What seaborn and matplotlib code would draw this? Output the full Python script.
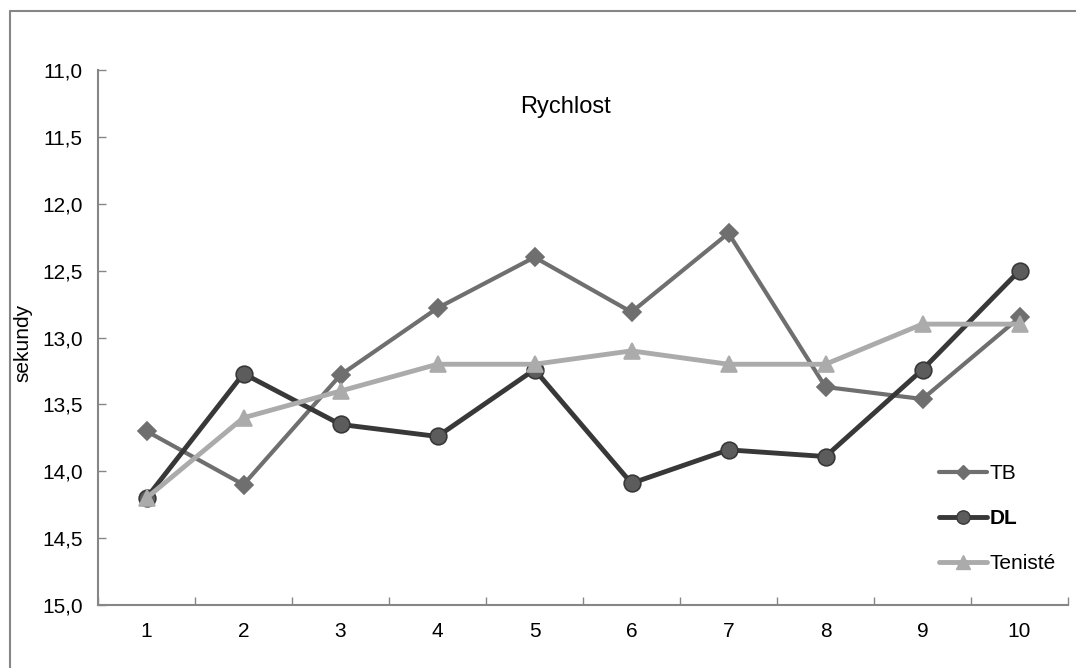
import pandas as pd
import matplotlib.pyplot as plt
import seaborn as sns
from matplotlib.lines import Line2D
from matplotlib.ticker import FixedLocator, FuncFormatter

# data (seconds, lower is better)
measurements = [1, 2, 3, 4, 5, 6, 7, 8, 9, 10]
tb = [13.7, 14.1, 13.28, 12.78, 12.4, 12.81, 12.22, 13.37, 13.46, 12.85]
dl = [14.2, 13.27, 13.65, 13.74, 13.24, 14.09, 13.84, 13.89, 13.24, 12.5]
teniste = [14.2, 13.6, 13.4, 13.2, 13.2, 13.1, 13.2, 13.2, 12.9, 12.9]
y_ticks = [11.0, 11.5, 12.0, 12.5, 13.0, 13.5, 14.0, 14.5, 15.0]

sns.set_style("white")
plt.rcParams['font.family'] = ['Liberation Sans', 'DejaVu Sans']
plt.rcParams['text.color'] = 'black'
plt.rcParams['axes.labelcolor'] = 'black'
plt.rcParams['xtick.labelcolor'] = 'black'
plt.rcParams['ytick.labelcolor'] = 'black'

fig = plt.figure(figsize=(10.76, 6.68), dpi=100)
ax = fig.add_axes([98 / 1076, 1 - 605 / 668, 970 / 1076, 535 / 668])

series = [
    ('TB', tb, '#6f6f6f', 'D', 9, 3.0, '#6f6f6f'),
    ('DL', dl, '#383838', 'o', 12, 3.5, '#5c5c5c'),
    ('Tenisté', teniste, '#ababab', '^', 12, 3.5, '#ababab'),
]

handles = []
for name, vals, col, mk, ms, lw, face in series:
    df = pd.DataFrame({'x': measurements, 'y': vals})
    sns.lineplot(data=df, x='x', y='y', ax=ax, color=col, linewidth=lw,
                 marker=mk, markersize=ms, markerfacecolor=face,
                 markeredgecolor=col, markeredgewidth=1.2)
    handles.append(Line2D([], [], color=col, linewidth=lw, marker=mk,
                          markersize=ms * 0.8, markerfacecolor=face,
                          markeredgecolor=col, label=name))

ax.set_xlim(0.5, 10.5)
ax.set_ylim(15, 11)

ax.set_yticks(y_ticks)
ax.yaxis.set_major_formatter(FuncFormatter(lambda v, p: f"{v:.1f}".replace('.', ',')))
ax.set_xticks(measurements)
ax.xaxis.set_minor_locator(FixedLocator([m + 0.5 for m in [0] + measurements]))

ax.tick_params(axis='y', direction='in', length=6, width=1, color='#868686',
               labelsize=15, pad=11, left=True, labelcolor='black')
ax.tick_params(axis='x', which='major', length=0, labelsize=15, pad=12,
               labelcolor='black')
ax.tick_params(axis='x', which='minor', direction='in', length=6, width=1,
               color='#868686', bottom=True)

for s in ['top', 'right']:
    ax.spines[s].set_visible(False)
for s in ['left', 'bottom']:
    ax.spines[s].set_color('#868686')
    ax.spines[s].set_linewidth(1.5)

ax.set_xlabel('')
ax.set_ylabel('sekundy', fontsize=15, color='black')
ax.yaxis.set_label_coords(-66 / 970, 0.49)

ax.text(0.482, 0.931, 'Rychlost', transform=ax.transAxes, ha='center',
        va='center', fontsize=17, color='black')

leg = ax.legend(handles=handles, loc='center left', bbox_to_anchor=(0.848, 0.161),
                frameon=False, fontsize=15, handlelength=2.3, labelspacing=1.25,
                handletextpad=0.1)
for t in leg.get_texts():
    t.set_color('black')
leg.get_texts()[1].set_fontweight('bold')

# outer chart border
fig.add_artist(Line2D([10 / 1076, 1.0], [1 - 11 / 668, 1 - 11 / 668],
                      transform=fig.transFigure, color='#868686', linewidth=1.5))
fig.add_artist(Line2D([10 / 1076, 10 / 1076], [0.0, 1 - 11 / 668],
                      transform=fig.transFigure, color='#868686', linewidth=1.5))

fig.savefig('out.png', dpi=100, facecolor='white')
